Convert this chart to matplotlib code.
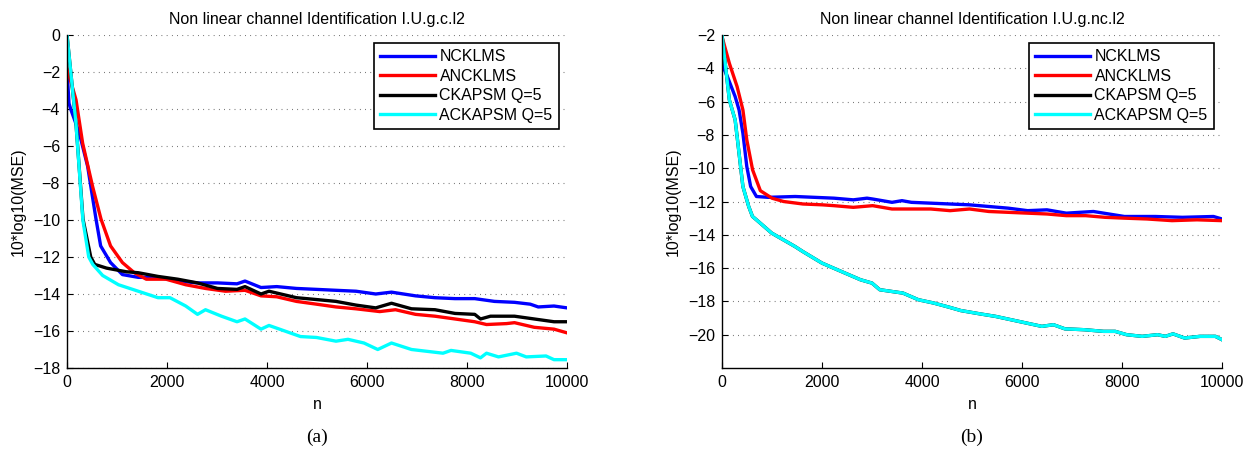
import matplotlib
matplotlib.use("Agg")
import matplotlib.pyplot as plt

plt.rcParams['font.family'] = ['Liberation Sans', 'DejaVu Sans']

labels = ["NCKLMS", "ANCKLMS", "CKAPSM Q=5", "ACKAPSM Q=5"]
colors = ["#0000ff", "#ff0000", "#000000", "#00ffff"]

# ---- (a) I.U.g.c.l2 ----
n_blue_a = [0, 40, 80, 246, 413, 580, 673, 871, 1108, 1425, 1820, 2215, 2610, 3010, 3400, 3560,
            3880, 4195, 4590, 4990, 5380, 5780, 6175, 6490, 6970, 7360, 7760, 8155, 8550, 8950,
            9265, 9425, 9740, 10000]
blue_a = [-1.9, -3.7, -4.05, -5.3, -7.1, -9.95, -11.4, -12.3, -12.95, -13.1, -13.1, -13.3, -13.4,
          -13.4, -13.45, -13.3, -13.65, -13.6, -13.7, -13.75, -13.8, -13.85, -14.0, -13.9, -14.1,
          -14.2, -14.25, -14.25, -14.4, -14.45, -14.55, -14.7, -14.65, -14.75]

n_red_a = [0, 180, 313, 513, 680, 871, 1108, 1346, 1585, 1980, 2375, 2770, 3170, 3560, 3880, 4195,
           4590, 4990, 5380, 5780, 6255, 6570, 6970, 7360, 7760, 8155, 8390, 8790, 8950, 9345,
           9740, 10000]
red_a = [-1.8, -3.5, -5.85, -8.2, -9.95, -11.4, -12.3, -12.85, -13.2, -13.2, -13.5, -13.7, -13.85,
         -13.8, -14.1, -14.15, -14.4, -14.55, -14.7, -14.8, -14.95, -14.85, -15.1, -15.2, -15.35,
         -15.5, -15.65, -15.6, -15.55, -15.8, -15.9, -16.1]

n_black_a = [0, 180, 320, 475, 555, 790, 1190, 1425, 1820, 2215, 2610, 3010, 3400, 3560, 3880,
             4040, 4590, 4990, 5380, 5780, 6175, 6490, 6890, 7360, 7760, 8155, 8270, 8470, 8950,
             9345, 9740, 10000]
black_a = [0, -4.8, -9.95, -12.0, -12.4, -12.6, -12.8, -12.85, -13.05, -13.2, -13.4, -13.7, -13.75,
           -13.6, -14.0, -13.85, -14.2, -14.3, -14.4, -14.6, -14.75, -14.5, -14.8, -14.85, -15.05,
           -15.1, -15.35, -15.2, -15.2, -15.35, -15.5, -15.5]

n_cyan_a = [0, 180, 317, 435, 515, 713, 1030, 1425, 1820, 2060, 2375, 2610, 2770, 3090, 3400, 3560,
            3880, 4040, 4355, 4670, 4990, 5380, 5620, 5940, 6215, 6490, 6890, 7205, 7520, 7680,
            8075, 8270, 8390, 8630, 8990, 9185, 9580, 9740, 10000]
cyan_a = [0, -4.8, -10.0, -12.0, -12.4, -13.0, -13.5, -13.85, -14.2, -14.2, -14.65, -15.1, -14.85,
          -15.2, -15.5, -15.35, -15.9, -15.7, -16.0, -16.3, -16.35, -16.55, -16.45, -16.65, -17.0,
          -16.65, -17.0, -17.1, -17.2, -17.05, -17.2, -17.45, -17.2, -17.4, -17.2, -17.4, -17.35,
          -17.55, -17.55]

# ---- (b) I.U.g.nc.l2 ----
n_blue_b = [0, 20, 108, 263, 341, 418, 496, 573, 689, 922, 1464, 1851, 2239, 2626, 2900, 3013,
            3400, 3600, 3788, 4175, 4562, 4950, 5337, 5724, 6112, 6499, 6886, 7428, 8048, 8668,
            9210, 9830, 10000]
blue_b = [-2.5, -3.9, -4.5, -5.7, -6.5, -7.9, -9.9, -11.1, -11.7, -11.75, -11.7, -11.75, -11.8,
          -11.9, -11.8, -11.85, -12.05, -11.95, -12.05, -12.1, -12.15, -12.2, -12.3, -12.4, -12.55,
          -12.5, -12.7, -12.6, -12.9, -12.9, -12.95, -12.9, -13.05]

n_red_b = [0, 147, 302, 418, 496, 612, 767, 999, 1231, 1619, 2006, 2239, 2626, 3013, 3400, 4175,
           4562, 4950, 5337, 6112, 6499, 6886, 7274, 7661, 8048, 8500, 9000, 9500, 10000]
red_b = [-2.1, -3.7, -5.1, -6.5, -8.3, -10.1, -11.35, -11.8, -12.0, -12.15, -12.2, -12.25, -12.35,
         -12.25, -12.45, -12.45, -12.55, -12.45, -12.6, -12.7, -12.75, -12.85, -12.85, -12.95,
         -13.0, -13.05, -13.15, -13.1, -13.15]

n_cyan_b = [0, 147, 263, 341, 418, 534, 610, 689, 995, 1458, 1613, 2000, 2230, 2616, 2770, 3000,
            3156, 3619, 3928, 4236, 4545, 4776, 5162, 5471, 5779, 6088, 6397, 6628, 6860, 7245,
            7631, 7863, 8094, 8403, 8711, 8866, 9020, 9252, 9560, 9869, 10000]
cyan_b = [-2.0, -5.9, -7.1, -9.1, -11.1, -12.3, -12.9, -13.1, -13.9, -14.7, -15.0, -15.7, -16.0,
          -16.5, -16.7, -16.9, -17.3, -17.5, -17.9, -18.1, -18.35, -18.55, -18.75, -18.9, -19.1,
          -19.3, -19.5, -19.4, -19.65, -19.7, -19.8, -19.8, -20.0, -20.1, -20.0, -20.1, -19.95,
          -20.2, -20.1, -20.1, -20.3]
# CKAPSM lies under ACKAPSM in (b)
n_black_b = list(n_cyan_b)
black_b = list(cyan_b)

W, H = 1245, 450
fig = plt.figure(figsize=(W / 100, H / 100), dpi=100)


def make_axes(x0, x1, y_top, y_bot):
    return fig.add_axes([x0 / W, 1 - y_bot / H, (x1 - x0) / W, (y_bot - y_top) / H])


def style(ax, title, ylim, yticks):
    ax.set_xlim(0, 10000)
    ax.set_ylim(*ylim)
    ax.set_xticks([0, 2000, 4000, 6000, 8000, 10000])
    ax.set_yticks(yticks)
    ax.spines['top'].set_visible(False)
    ax.spines['right'].set_visible(False)
    for s in ['left', 'bottom']:
        ax.spines[s].set_linewidth(1.0)
    ax.tick_params(direction='in', length=4, width=0.8, labelsize=11.5, pad=5)
    ax.yaxis.grid(True, linestyle=(0, (0.7, 4)), color='#555555', linewidth=0.8)
    ax.set_axisbelow(True)
    ax.set_title(title, fontsize=11.5, pad=8)
    ax.set_xlabel('n', fontsize=11.5, labelpad=5)
    ax.set_ylabel('10*log10(MSE)', fontsize=11.5, labelpad=5)
    leg = ax.legend(loc='upper right', bbox_to_anchor=(0.984, 0.976), borderaxespad=0,
                    fontsize=11.5, fancybox=False, edgecolor='black', framealpha=1,
                    handlelength=3.4, handletextpad=0.3, labelspacing=0.28,
                    borderpad=0.4)
    leg.get_frame().set_linewidth(1.2)


ax1 = make_axes(67, 567, 35, 368)
ax1.plot(n_blue_a, blue_a, color=colors[0], lw=2.4, label=labels[0])
ax1.plot(n_red_a, red_a, color=colors[1], lw=2.4, label=labels[1])
ax1.plot(n_black_a, black_a, color=colors[2], lw=2.4, label=labels[2])
ax1.plot(n_cyan_a, cyan_a, color=colors[3], lw=2.4, label=labels[3])
style(ax1, 'Non linear channel Identification I.U.g.c.l2', (-18, 0), list(range(-18, 1, 2)))

ax2 = make_axes(722, 1222, 35, 368)
ax2.plot(n_blue_b, blue_b, color=colors[0], lw=2.4, label=labels[0])
ax2.plot(n_red_b, red_b, color=colors[1], lw=2.4, label=labels[1])
ax2.plot(n_black_b, black_b, color=colors[2], lw=2.4, label=labels[2])
ax2.plot(n_cyan_b, cyan_b, color=colors[3], lw=2.4, label=labels[3])
style(ax2, 'Non linear channel Identification I.U.g.nc.l2', (-22, -2), list(range(-20, -1, 2)))

fig.text(317 / W, 1 - 437 / H, '(a)', ha='center', va='center', fontsize=14, family='Liberation Serif')
fig.text(972 / W, 1 - 437 / H, '(b)', ha='center', va='center', fontsize=14, family='Liberation Serif')

fig.savefig('out.png', dpi=100)
